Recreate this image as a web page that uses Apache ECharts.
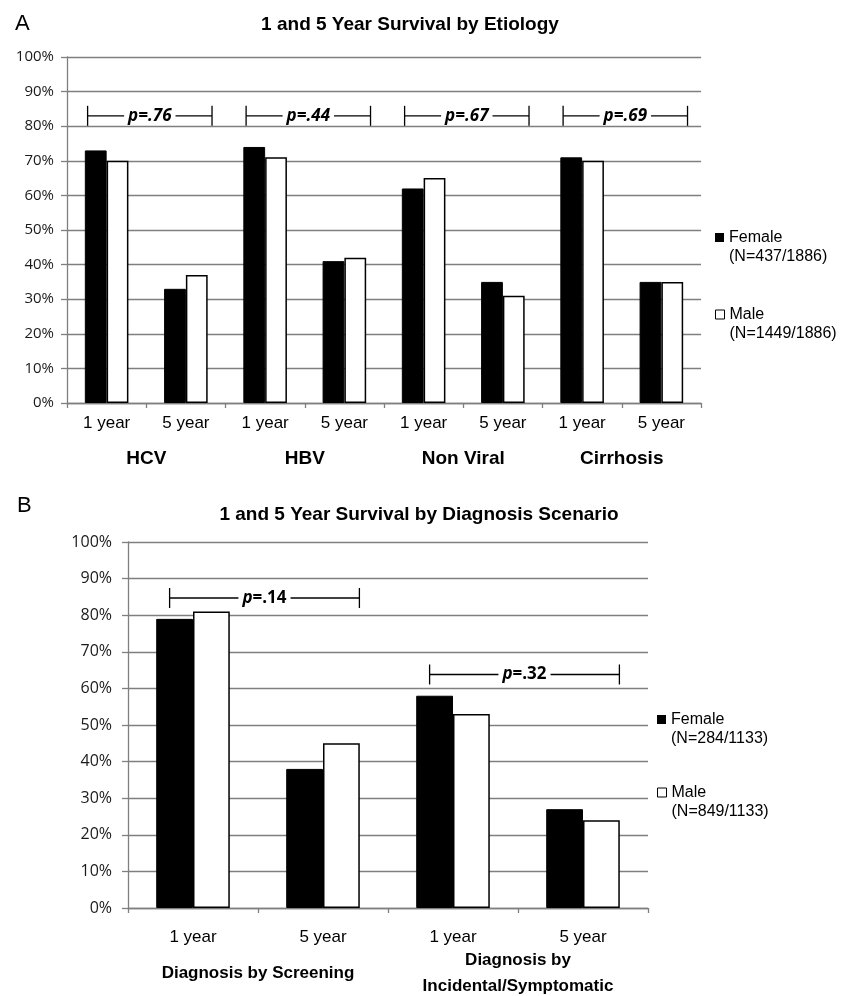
<!DOCTYPE html>
<html><head><meta charset="utf-8">
<script src="https://cdn.jsdelivr.net/npm/echarts@6/dist/echarts.min.js"></script>
<style>html,body{margin:0;padding:0;background:#fff}#c{width:846px;height:996px}</style>
</head><body><div id="c"></div>
<script>
// ---------- Panel A: survival by etiology ----------
const etiologyCategories = ['1 year', '5 year', '1 year', '5 year', '1 year', '5 year', '1 year', '5 year'];
const etiologyGroups = ['HCV', 'HBV', 'Non Viral', 'Cirrhosis'];
const etiologyFemale = [73, 33, 74, 41, 62, 35, 71, 35];
const etiologyMale = [70, 37, 71, 42, 65, 31, 70, 35];
const etiologyPValues = ['.76', '.44', '.67', '.69'];
const etiologyBracketFrom = [0, 2, 4, 6];
const etiologyBracketTo = [1, 3, 5, 7];
const etiologyBracketLevel = [83, 83, 83, 83];
const etiologyN = ['(N=437/1886)', '(N=1449/1886)'];

// ---------- Panel B: survival by diagnosis scenario ----------
const scenarioCategories = ['1 year', '5 year', '1 year', '5 year'];
const scenarioGroups = ['Diagnosis by Screening', 'Diagnosis by\nIncidental/Symptomatic'];
const scenarioFemale = [79, 38, 58, 27];
const scenarioMale = [81, 45, 53, 24];
const scenarioPValues = ['.14', '.32'];
const scenarioBracketFrom = [0, 2];
const scenarioBracketTo = [1, 3];
const scenarioBracketLevel = [84.7, 63.8];
const scenarioN = ['(N=284/1133)', '(N=849/1133)'];

const seriesNames = ['Female', 'Male'];
const yMin = 0, yMax = 100, yStep = 10;

const SANS = '"Liberation Sans", Arial, sans-serif';
const CAL = '"Open Sans", "Noto Sans", sans-serif';
const GRID = '#7f7f7f';

const chart = echarts.init(document.getElementById('c'), null, {renderer: 'canvas'});

function bracketRender(pvals, startOff, endOff, italicOnlyP) {
  return function (params, api) {
    const band = api.size([1, 0])[0];
    const a = api.coord([api.value(0), api.value(2)]);
    const b = api.coord([api.value(1), api.value(2)]);
    const x1 = a[0] + startOff * band, x2 = b[0] + endOff * band, y = a[1];
    const h = 10;
    const ls = {stroke: '#000', lineWidth: 1.3};
    const txt = italicOnlyP ? '{i|p}{n|=' + pvals[params.dataIndex] + '}' : '{i|p=' + pvals[params.dataIndex] + '}';
    return {
      type: 'group',
      children: [
        {type: 'line', shape: {x1: x1, y1: y, x2: x2, y2: y}, style: ls},
        {type: 'line', shape: {x1: x1, y1: y - h, x2: x1, y2: y + h}, style: ls},
        {type: 'line', shape: {x1: x2, y1: y - h, x2: x2, y2: y + h}, style: ls},
        {type: 'text', x: (x1 + x2) / 2, y: y, style: {
          text: txt, align: 'center', verticalAlign: 'middle',
          backgroundColor: '#fff', padding: [0, 4],
          rich: {
            i: {fontStyle: 'italic', fontWeight: 'bold', fontSize: 17, fontFamily: CAL, fill: '#000'},
            n: {fontWeight: 'bold', fontSize: 17, fontFamily: CAL, fill: '#000'}
          }
        }}
      ]
    };
  };
}

function yAxisDef(grid, margin, fs) {
  return {
    type: 'value', gridIndex: grid, min: yMin, max: yMax, interval: yStep,
    axisLine: {show: true, lineStyle: {color: GRID, width: 1.3}},
    axisTick: {show: true, length: 6, lineStyle: {color: GRID, width: 1.3}},
    splitLine: {show: true, lineStyle: {color: GRID, width: 1.3}},
    axisLabel: {formatter: '{value}%', color: '#1a1a1a', fontSize: fs, fontFamily: CAL, margin: margin}
  };
}

function legendItems(nTexts, left, tops) {
  return seriesNames.map(function (name, i) {
    return {
      left: left, top: tops[i], orient: 'vertical', padding: 0,
      icon: 'rect', itemWidth: 9, itemHeight: 9, selectedMode: false,
      data: [i === 0 ? {name: name, icon: 'rect', itemStyle: {color: '#000', borderWidth: 0}}
                     : {name: name, icon: 'rect', itemStyle: {color: '#fff', borderColor: '#000', borderWidth: 1}}],
      formatter: function (n) { return ' \n' + n + '\n' + nTexts[i]; },
      textStyle: {fontFamily: SANS, fontSize: 16, color: '#000', lineHeight: 19}
    };
  });
}

const barStyleF = {color: '#000', borderColor: '#000', borderWidth: 1};
const barStyleM = {color: '#fff', borderColor: '#000', borderWidth: 1.5};

chart.setOption({
  animation: false,
  backgroundColor: '#fff',
  title: [
    {text: 'A', left: 10, top: 8, textStyle: {fontFamily: SANS, fontSize: 22, fontWeight: 'normal', color: '#000'}},
    {text: '1 and 5 Year Survival by Etiology', left: 405, top: 10, textAlign: 'center',
     textStyle: {fontFamily: SANS, fontSize: 19, fontWeight: 'bold', color: '#000'}},
    {text: 'B', left: 12, top: 490, textStyle: {fontFamily: SANS, fontSize: 22, fontWeight: 'normal', color: '#000'}},
    {text: '1 and 5 Year Survival by Diagnosis Scenario', left: 414, top: 500, textAlign: 'center',
     textStyle: {fontFamily: SANS, fontSize: 19, fontWeight: 'bold', color: '#000'}}
  ],
  legend: legendItems(etiologyN, 715, [209, 286]).concat(legendItems(scenarioN, 657, [691, 764])),
  grid: [
    {left: 67, right: 145, top: 57, bottom: 593, containLabel: false, outerBoundsMode: 'none'},
    {left: 128, right: 198, top: 542, bottom: 88, containLabel: false, outerBoundsMode: 'none'}
  ],
  xAxis: [
    {type: 'category', gridIndex: 0, data: etiologyCategories,
     axisLine: {lineStyle: {color: GRID, width: 1.3}},
     axisTick: {show: true, length: 5, alignWithLabel: false, lineStyle: {color: GRID, width: 1.3}},
     axisLabel: {color: '#000', fontFamily: SANS, fontSize: 17, margin: 12}},
    {type: 'category', gridIndex: 0, data: etiologyGroups, position: 'bottom',
     axisLine: {show: false}, axisTick: {show: false},
     axisLabel: {color: '#000', fontFamily: SANS, fontSize: 19, fontWeight: 'bold', margin: 46}},
    {type: 'category', gridIndex: 1, data: scenarioCategories,
     axisLine: {lineStyle: {color: GRID, width: 1.3}},
     axisTick: {show: true, length: 5, lineStyle: {color: GRID, width: 1.3}},
     axisLabel: {color: '#000', fontFamily: SANS, fontSize: 17, margin: 21}},
    {type: 'category', gridIndex: 1, data: scenarioGroups, position: 'bottom',
     axisLine: {show: false}, axisTick: {show: false},
     axisLabel: {color: '#000', fontFamily: SANS, fontSize: 17, fontWeight: 'bold', margin: 65,
                 verticalAlign: 'middle', lineHeight: 26}}
  ],
  yAxis: [yAxisDef(0, 13, 15), yAxisDef(1, 16, 16)],
  series: [
    {name: 'Female', type: 'bar', xAxisIndex: 0, yAxisIndex: 0, data: etiologyFemale,
     barWidth: '27.5%', barGap: '0%', itemStyle: barStyleF},
    {name: 'Male', type: 'bar', xAxisIndex: 0, yAxisIndex: 0, data: etiologyMale,
     barWidth: '27.5%', barGap: '0%', itemStyle: barStyleM},
    {name: 'Female', type: 'bar', xAxisIndex: 2, yAxisIndex: 1, data: scenarioFemale,
     barWidth: '28.3%', barGap: '0%', itemStyle: barStyleF},
    {name: 'Male', type: 'bar', xAxisIndex: 2, yAxisIndex: 1, data: scenarioMale,
     barWidth: '28.3%', barGap: '0%', itemStyle: barStyleM},
    {type: 'custom', xAxisIndex: 0, yAxisIndex: 0, clip: false, silent: true,
     renderItem: bracketRender(etiologyPValues, -0.24, 0.33, false),
     encode: {x: [0, 1], y: 2},
     data: etiologyPValues.map(function (p, i) { return [etiologyBracketFrom[i], etiologyBracketTo[i], etiologyBracketLevel[i]]; })},
    {type: 'custom', xAxisIndex: 2, yAxisIndex: 1, clip: false, silent: true,
     renderItem: bracketRender(scenarioPValues, -0.18, 0.28, true),
     encode: {x: [0, 1], y: 2},
     data: scenarioPValues.map(function (p, i) { return [scenarioBracketFrom[i], scenarioBracketTo[i], scenarioBracketLevel[i]]; })}
  ]
});
</script></body></html>
